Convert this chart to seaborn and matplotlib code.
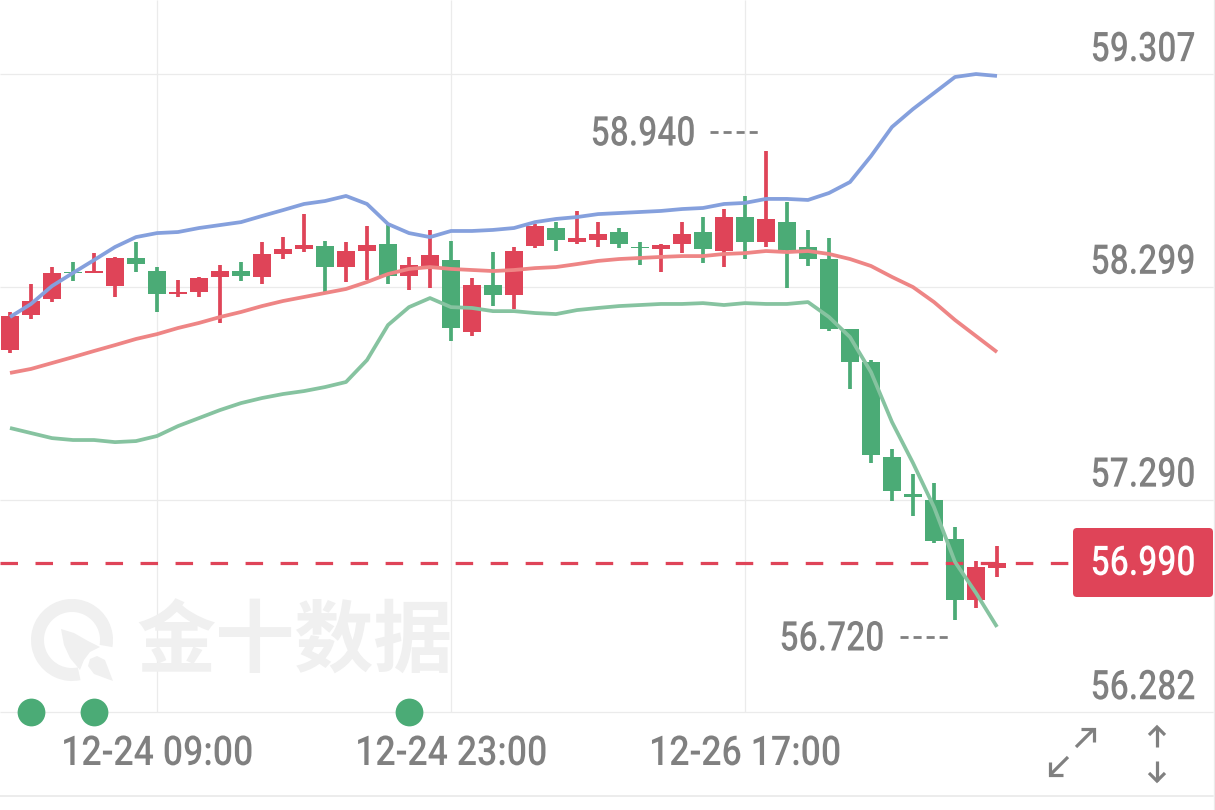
import numpy as np
import pandas as pd
import matplotlib
matplotlib.use("Agg")
import matplotlib.pyplot as plt
import matplotlib.patches as mp
from matplotlib.patheffects import AbstractPathEffect
from matplotlib.transforms import Affine2D, ScaledTranslation
import seaborn as sns

opens = [57.999,58.165,58.240,58.368,58.364,58.302,58.435,58.373,58.264,58.274,58.345,58.373,
         58.345,58.454,58.477,58.492,58.392,58.468,58.501,58.349,58.392,58.425,58.084,58.307,
         58.259,58.492,58.577,58.511,58.520,58.558,58.487,58.477,58.501,58.558,58.468,58.629,
         58.511,58.605,58.487,58.430,58.098,57.942,57.491,57.316,57.287,57.103,56.813,56.965]
closes = [58.160,58.231,58.364,58.364,58.373,58.435,58.406,58.264,58.274,58.340,58.373,58.349,
          58.454,58.477,58.496,58.392,58.468,58.496,58.349,58.402,58.449,58.103,58.307,58.259,
          58.468,58.587,58.520,58.530,58.549,58.501,58.482,58.496,58.549,58.477,58.629,58.511,
          58.620,58.473,58.430,58.098,57.942,57.501,57.330,57.302,57.093,56.813,56.970,56.990]
highs = [58.179,58.312,58.392,58.416,58.458,58.440,58.511,58.392,58.330,58.345,58.402,58.416,
         58.511,58.534,58.643,58.515,58.511,58.587,58.591,58.440,58.568,58.515,58.340,58.463,
         58.487,58.596,58.605,58.658,58.605,58.577,58.511,58.501,58.605,58.629,58.667,58.729,
         58.940,58.700,58.568,58.530,58.098,57.951,57.529,57.411,57.368,57.160,57.000,57.069]
lows = [57.984,58.146,58.226,58.326,58.364,58.250,58.368,58.179,58.250,58.250,58.127,58.326,
        58.312,58.430,58.463,58.274,58.321,58.330,58.312,58.283,58.293,58.041,58.065,58.207,
        58.193,58.482,58.468,58.501,58.487,58.482,58.402,58.368,58.458,58.411,58.392,58.430,
        58.487,58.293,58.397,58.089,57.814,57.463,57.283,57.212,57.084,56.720,56.775,56.922]
upper = [58.155,58.217,58.302,58.364,58.425,58.487,58.534,58.553,58.558,58.577,58.591,58.605,
         58.634,58.662,58.691,58.705,58.729,58.691,58.596,58.553,58.534,58.563,58.563,58.568,
         58.577,58.605,58.620,58.629,58.643,58.648,58.653,58.658,58.667,58.672,58.691,58.696,
         58.715,58.715,58.710,58.743,58.795,58.918,59.056,59.141,59.217,59.293,59.307,59.298]
middle = [57.890,57.909,57.937,57.965,57.994,58.022,58.051,58.074,58.103,58.127,58.155,58.179,
          58.207,58.231,58.250,58.269,58.288,58.321,58.359,58.383,58.392,58.383,58.378,58.373,
          58.378,58.387,58.392,58.406,58.421,58.430,58.435,58.440,58.444,58.444,58.454,58.458,
          58.468,58.463,58.468,58.454,58.430,58.397,58.345,58.297,58.226,58.141,58.065,57.989]
lower = [57.629,57.605,57.581,57.572,57.572,57.562,57.567,57.591,57.638,57.676,57.714,57.747,
         57.771,57.790,57.804,57.823,57.847,57.951,58.117,58.202,58.245,58.202,58.198,58.183,
         58.183,58.174,58.169,58.188,58.198,58.207,58.212,58.217,58.217,58.221,58.212,58.221,
         58.217,58.217,58.226,58.155,58.060,57.894,57.657,57.463,57.254,56.994,56.847,56.686]
y_ticks = [59.307, 58.299, 57.290, 56.282]
x_tick_pos = [7, 21, 35]
x_tick_labels = ["12-24 09:00", "12-24 23:00", "12-26 17:00"]
dot_idx = [1, 4, 19]
last_price = 56.990
peak_label, trough_label = "58.940", "56.720"

RED, GREEN, GREY, GRID = "#DF4458", "#4BAB76", "#808080", "#EBEBEB"
FONT = ["Roboto", "DejaVu Sans"]


class Condense(AbstractPathEffect):
    """Narrow the glyphs horizontally about the text's alignment edge."""

    def __init__(self, sx, anchor):
        super().__init__()
        self.sx, self.anchor = sx, anchor

    def draw_path(self, renderer, gc, tpath, affine, rgbFace=None):
        e = tpath.get_extents()
        a = e.x1 if self.anchor == "right" else (e.x0 + e.x1) / 2
        t = Affine2D().translate(-a, 0).scale(self.sx, 1).translate(a, 0)
        renderer.draw_path(gc, tpath, t + affine, rgbFace)


NARROW_R = [Condense(0.82, "right")]
NARROW_C = [Condense(0.87, "center")]

sns.set_theme(style="white")
fig = plt.figure(figsize=(12.15, 8.1), dpi=100, facecolor="white")
ax = fig.add_axes([0, 0, 1, 1])
ax.set_xlim(-10 / 21, 1205 / 21)
ax.set_ylim(55.818, 59.658)
for s in ax.spines.values():
    s.set_visible(False)

px = Affine2D().scale(1, -1).translate(0, 810)

# grid, stopping at the plot bottom
ax.hlines(y_ticks, -10 / 21, 1203 / 21, color=GRID, lw=0.9, zorder=0)
ax.vlines(x_tick_pos, y_ticks[-1], 59.658, color=GRID, lw=0.9, zorder=0)
ax.add_line(plt.Line2D([0, 1213], [796, 796], transform=px, color=GRID, lw=1.3, zorder=0))
ax.add_line(plt.Line2D([1213.5, 1213.5], [0, 810], transform=px, color=GRID, lw=0.9, zorder=0))

# watermark
ax.add_patch(mp.Wedge((72, 640), 41, 78, 370, width=13, transform=px, color="#F0F0F0", lw=0, zorder=0.5))
ax.add_patch(mp.Polygon([(61, 629), (74, 633), (88, 641), (100, 647), (90, 652), (84, 660), (80, 670), (70, 658), (64, 645)],
                        transform=px, color="#F0F0F0", lw=0, zorder=0.5))
ax.add_patch(mp.Polygon([(97, 656), (105, 660), (113, 681), (94, 674), (88, 666), (90, 659)],
                        transform=px, color="#F0F0F0", lw=0, zorder=0.5))
ax.text(295, 643, "金十数据", transform=px, fontsize=57, fontweight="bold", ha="center", va="center",
        family=["Noto Sans CJK SC", "DejaVu Sans"], color="#F0F0F0", zorder=0.5)

# candles
idx = np.arange(len(opens))
o, c = np.array(opens), np.array(closes)
cols = [RED if cc >= oo else GREEN for oo, cc in zip(o, c)]
wicks = ax.vlines(idx, lows, highs, colors=cols, lw=2.7, zorder=2)
wicks.set_capstyle("butt")
ax.bar(idx, np.abs(c - o), bottom=np.minimum(o, c), width=17.5 / 21, color=cols, lw=0, zorder=2)

# bands
df = pd.DataFrame({"i": idx, "upper": upper, "middle": middle, "lower": lower})
for name, col in [("upper", "#85A0DD"), ("middle", "#EE8585"), ("lower", "#86C3A0")]:
    sns.lineplot(data=df, x="i", y=name, color=col, lw=2.7, ax=ax, zorder=3, solid_capstyle="butt")

# last price
ax.add_line(plt.Line2D([0, 1072], [562.7, 562.7], transform=px, color=RED, lw=2.3,
                       dashes=(5.48, 5.48), dash_capstyle="butt", zorder=2.5))
ax.add_patch(mp.FancyBboxPatch((1077, 532), 132, 61, boxstyle="round,pad=4,rounding_size=4", transform=px,
                               color=RED, lw=0, zorder=4))
ax.text(1196, 564, f"{last_price:.3f}", transform=px, color="white", fontsize=29.5, fontweight=500, ha="right",
        va="center", family=FONT, zorder=5, path_effects=NARROW_R)

# extreme labels
for label, xr, yc, x0, x1 in [(peak_label, 696, 132, 710, 760), (trough_label, 885, 637, 900, 948)]:
    ax.text(xr, yc + 2.5, label, transform=px, color=GREY, fontsize=29.5, fontweight=500, ha="right", va="center",
            family=FONT, zorder=5, path_effects=NARROW_R)
    ax.add_line(plt.Line2D([x0, x1], [yc, yc], transform=px, color=GREY, lw=2.0,
                           dashes=(2.9, 1.8), dash_capstyle="butt", zorder=5))

# event dots
ax.scatter(dot_idx, [y_ticks[-1]] * len(dot_idx), s=400, color=GREEN, lw=0, zorder=6, clip_on=False)

# axes text
ax.set_xlabel("")
ax.set_ylabel("")
ax.set_xticks(x_tick_pos)
ax.set_xticklabels(x_tick_labels, family=FONT, fontsize=29.5, fontweight=500, color=GREY)
ax.tick_params(axis="x", length=0, direction="in", pad=-54)
for lab in ax.get_xticklabels():
    lab.set_path_effects(NARROW_C)
ax.yaxis.tick_right()
ax.set_yticks(y_ticks)
ax.set_yticklabels([f"{v:.3f}" for v in y_ticks], family=FONT, fontsize=29.5, fontweight=500, color=GREY)
ax.tick_params(axis="y", length=0, direction="in", pad=-13.7)
for lab in ax.get_yticklabels():
    lab.set_ha("right")
    lab.set_va("bottom")
    lab.set_path_effects(NARROW_R)
    lab.set_transform(lab.get_transform() + ScaledTranslation(0, 3.5 / 72, fig.dpi_scale_trans))

# corner icons
arrows = [
    [(1076, 747), (1094, 729)], [(1081, 729), (1094, 729), (1094, 742)],
    [(1068, 757), (1050, 775)], [(1050, 762), (1050, 775), (1063, 775)],
    [(1157, 727), (1157, 747)], [(1149, 735), (1157, 727), (1165, 735)],
    [(1157, 761), (1157, 781)], [(1149, 773), (1157, 781), (1165, 773)],
]
for seg in arrows:
    xs, ys = zip(*seg)
    ax.add_line(plt.Line2D(xs, ys, transform=px, color=GREY, lw=2.3, solid_capstyle="butt",
                           solid_joinstyle="miter", zorder=5))

fig.savefig("out.png", dpi=100, facecolor="white")
